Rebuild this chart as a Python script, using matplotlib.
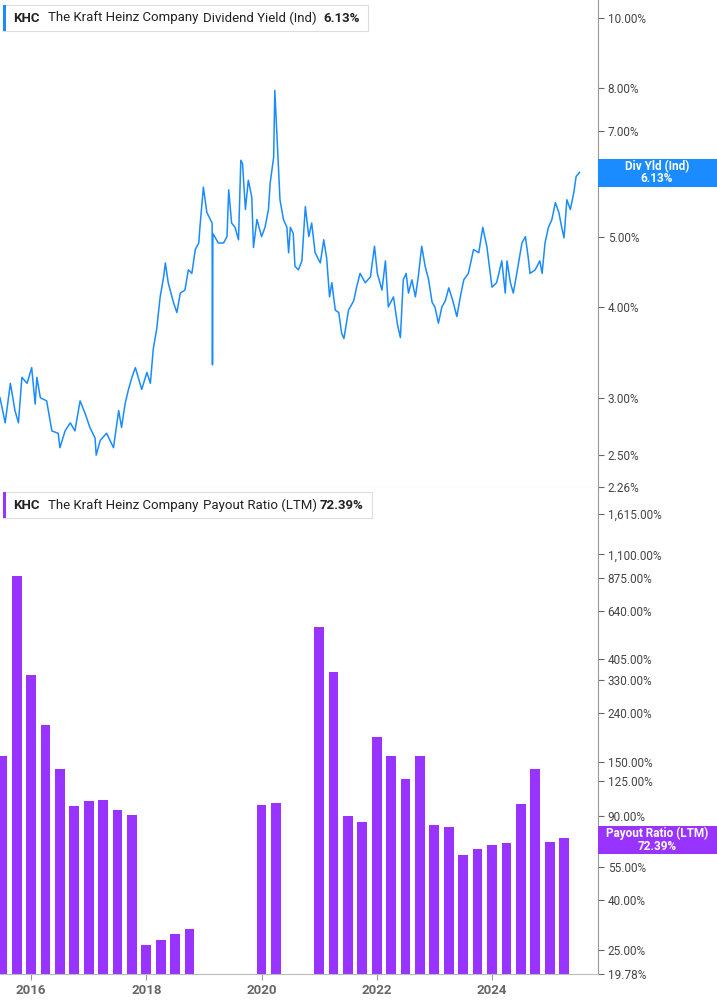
import matplotlib
matplotlib.use("Agg")
import matplotlib.pyplot as plt
import matplotlib.ticker as mticker
import numpy as np

plt.rcParams["font.family"] = "Roboto"

# dividend yield (%), decimal year
yield_dates = [2015.46, 2015.55, 2015.64, 2015.72, 2015.78, 2015.84, 2015.93, 2016.01, 2016.07, 2016.10,
               2016.16, 2016.27, 2016.36, 2016.47, 2016.50, 2016.59, 2016.68, 2016.76, 2016.85, 2016.94,
               2017.02, 2017.11, 2017.13, 2017.20, 2017.31, 2017.43, 2017.52, 2017.57, 2017.63, 2017.69,
               2017.75, 2017.81, 2017.92, 2018.01, 2018.07, 2018.12, 2018.18, 2018.24, 2018.30, 2018.33,
               2018.38, 2018.47, 2018.53, 2018.59, 2018.67, 2018.73, 2018.79, 2018.85, 2018.91, 2018.93,
               2018.99, 2019.05, 2019.11, 2019.142, 2019.148, 2019.155, 2019.25, 2019.34, 2019.40, 2019.43,
               2019.48, 2019.54, 2019.60, 2019.64, 2019.67, 2019.72, 2019.77, 2019.83, 2019.86, 2019.92,
               2020.00, 2020.06, 2020.12, 2020.15, 2020.21, 2020.23, 2020.32, 2020.38, 2020.44, 2020.47,
               2020.50, 2020.55, 2020.58, 2020.64, 2020.70, 2020.76, 2020.82, 2020.87, 2020.93, 2021.02,
               2021.08, 2021.13, 2021.18, 2021.22, 2021.28, 2021.34, 2021.39, 2021.43, 2021.51, 2021.60,
               2021.65, 2021.71, 2021.80, 2021.89, 2021.96, 2022.01, 2022.09, 2022.15, 2022.20, 2022.29,
               2022.36, 2022.41, 2022.46, 2022.51, 2022.55, 2022.61, 2022.67, 2022.72, 2022.78, 2022.84,
               2022.90, 2022.96, 2023.01, 2023.07, 2023.13, 2023.19, 2023.25, 2023.32, 2023.39, 2023.45,
               2023.51, 2023.59, 2023.68, 2023.77, 2023.84, 2023.91, 2024.00, 2024.08, 2024.17, 2024.23,
               2024.26, 2024.32, 2024.37, 2024.43, 2024.52, 2024.58, 2024.63, 2024.66, 2024.75, 2024.83,
               2024.87, 2024.92, 2024.98, 2025.04, 2025.10, 2025.16, 2025.21, 2025.25, 2025.30, 2025.36,
               2025.42, 2025.46, 2025.52]
yield_vals = [3.0, 2.77, 3.14, 2.88, 2.77, 3.2, 3.14, 3.3, 2.94, 3.2,
              3.0, 2.97, 2.7, 2.68, 2.56, 2.7, 2.77, 2.7, 2.97, 2.85,
              2.73, 2.64, 2.5, 2.62, 2.68, 2.56, 2.88, 2.73, 2.94, 3.08,
              3.2, 3.3, 3.08, 3.25, 3.14, 3.5, 3.73, 4.13, 4.4, 4.6,
              4.32, 4.06, 3.93, 4.18, 4.22, 4.5, 4.45, 4.8, 4.9, 5.15,
              5.85, 5.4, 5.28, 5.22, 3.33, 5.05, 4.9, 4.9, 5.0, 5.8,
              5.22, 5.15, 4.95, 6.37, 6.3, 5.45, 5.98, 5.67, 4.83, 5.28,
              5.0, 5.15, 5.45, 5.93, 6.43, 7.95, 5.62, 5.28, 5.15, 4.75,
              5.15, 5.05, 4.55, 4.5, 4.63, 5.5, 5.0, 5.22, 4.75, 4.6,
              4.95, 4.67, 4.13, 4.32, 3.96, 3.93, 3.68, 3.62, 3.96, 4.08,
              4.26, 4.45, 4.32, 4.4, 4.85, 4.45, 4.22, 4.63, 4.0, 4.13,
              3.78, 3.63, 4.36, 4.45, 4.18, 4.36, 4.13, 4.4, 4.85, 4.55,
              4.36, 4.06, 4.0, 3.8, 4.0, 4.08, 4.25, 4.08, 3.88, 4.13,
              4.36, 4.45, 4.8, 4.75, 5.15, 4.85, 4.26, 4.32, 4.63, 4.18,
              4.63, 4.32, 4.18, 4.45, 4.9, 5.0, 4.67, 4.45, 4.5, 4.63,
              4.45, 4.9, 5.15, 5.28, 5.57, 5.4, 5.15, 4.98, 5.62, 5.45,
              5.75, 6.05, 6.13]

# payout ratio (LTM, %), quarterly; nan = no bar
payout_dates = [2015.5 + 0.25 * i for i in range(40)]
payout_vals = [160, 892, 345, 214, 141, 99, 104, 105, 95, 91,
               26.1, 27.4, 29.0, 30.4, np.nan, np.nan, np.nan, np.nan, 100, 102,
               np.nan, np.nan, 547, 358, 90, 85, 192, 159, 128, 160,
               82, 80.5, 62, 65.5, 68.2, 69, 100.7, 141, 70, 72.39]

yield_ticks = [2.26, 2.5, 3, 4, 5, 6, 7, 8, 10]
payout_ticks = [19.78, 25, 40, 55, 90, 125, 150, 240, 330, 405, 640, 875, 1100, 1615]
year_ticks = [2016, 2018, 2020, 2022, 2024]

blue = "#1a8cff"
purple = "#9933ff"
grey = "#666666"

fig = plt.figure(figsize=(7.17, 10.05), dpi=100)
ax1 = fig.add_axes([0, 1 - 487 / 1005, 598 / 717, 487 / 1005])
ax2 = fig.add_axes([0, 31 / 1005, 598 / 717, 487 / 1005])

xmin, xmax = 2015.46, 2025.84

ax1.plot(yield_dates, yield_vals, color=blue, lw=1.1)
ax1.set_yscale("log")
ax1.set_ylim(2.26, 10.59)
ax1.set_xlim(xmin, xmax)

ax2.bar(payout_dates, payout_vals, width=0.17, color=purple, edgecolor="none")
ax2.set_yscale("log")
ax2.set_ylim(19.78, 2095)
ax2.set_xlim(xmin, xmax)

for ax, ticks, fmt in [(ax1, yield_ticks, "{:.2f}%"), (ax2, payout_ticks, "{:,.2f}%")]:
    ax.yaxis.tick_right()
    ax.yaxis.set_major_locator(mticker.FixedLocator(ticks))
    ax.yaxis.set_minor_locator(mticker.NullLocator())
    ax.set_yticklabels([fmt.format(t) for t in ticks])
    ax.tick_params(axis="y", colors=grey, labelcolor="#444444", labelsize=8.5, length=4, pad=3)
    for s in ["left", "top"]:
        ax.spines[s].set_visible(False)
    ax.spines["right"].set_color("#999999")
    ax.spines["bottom"].set_color("#bbbbbb")

ax1.set_xticks([])
ax2.set_xticks(year_ticks)
ax2.set_xticklabels([str(y) for y in year_ticks], fontsize=9.5, fontweight="bold", color=grey)
ax2.tick_params(axis="x", colors="#999999", labelcolor=grey, length=4)

# legends
def legend(ytop, color, series, value, right):
    fig.patches.append(plt.Rectangle((3 / 717, 1 - (ytop + 26) / 1005), (right - 3) / 717, 26 / 1005,
                                     transform=fig.transFigure, facecolor="white",
                                     edgecolor="#dddddd", lw=0.8, zorder=5))
    fig.patches.append(plt.Rectangle((3 / 717, 1 - (ytop + 26) / 1005), 3 / 717, 26 / 1005,
                                     transform=fig.transFigure, facecolor=color, edgecolor="none", zorder=6))
    yc = 1 - (ytop + 13) / 1005
    kw = dict(va="center", fontsize=9.5, color="#222222", zorder=7)
    fig.text(13 / 717, yc, "KHC", fontweight="bold", **kw)
    fig.text(48 / 717, yc, "The Kraft Heinz Company", **kw)
    fig.text(203 / 717, yc, series, **kw)
    fig.text((right - 8) / 717, yc, value, fontweight="bold", ha="right", **kw)

legend(5, blue, "Dividend Yield (Ind)", "6.13%", 368)
legend(492, purple, "Payout Ratio (LTM)", "72.39%", 372)

# right-hand value tags
def tag(ytop, color, l1, l2):
    fig.patches.append(plt.Rectangle((598 / 717, 1 - (ytop + 28) / 1005), 119 / 717, 28 / 1005,
                                     transform=fig.transFigure, facecolor=color, edgecolor="none", zorder=5))
    xc = 657 / 717
    fig.text(xc, 1 - (ytop + 7.5) / 1005, l1, ha="center", va="center", color="white",
             fontsize=8.5, fontweight="bold", zorder=6)
    fig.text(xc, 1 - (ytop + 20) / 1005, l2, ha="center", va="center", color="white",
             fontsize=8.5, fontweight="bold", zorder=6)

tag(159, blue, "Div Yld (Ind)", "6.13%")
tag(826, purple, "Payout Ratio (LTM)", "72.39%")

fig.savefig("out.png", dpi=100)
